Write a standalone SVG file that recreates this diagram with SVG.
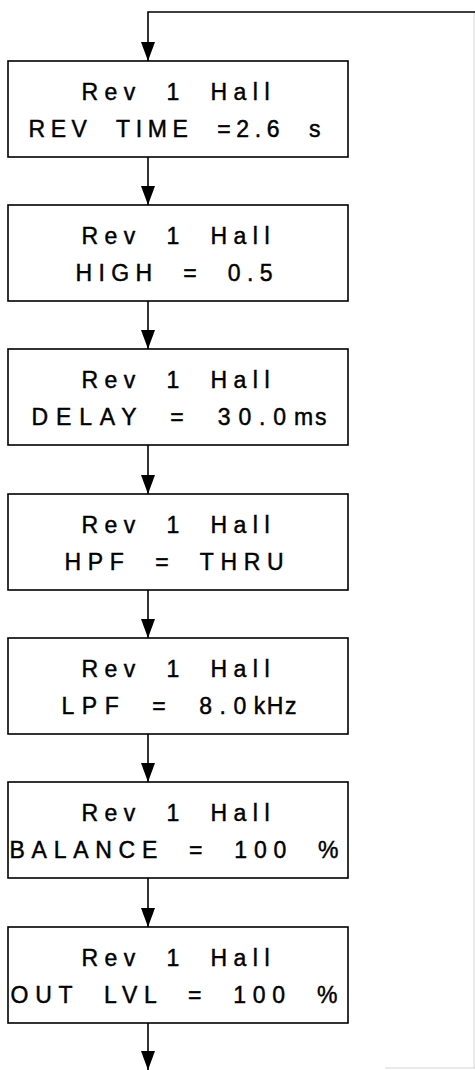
<svg xmlns="http://www.w3.org/2000/svg" width="475" height="1070" viewBox="0 0 475 1070">
<defs>
<style>
.box{fill:#fff;stroke:#000;stroke-width:1.6}
.t{font-family:"Liberation Sans",Arial,sans-serif;font-size:23px;fill:#000;stroke:#000;stroke-width:0.45;letter-spacing:6px;word-spacing:12px}
.tight{letter-spacing:0px}
.ln{stroke:#000;stroke-width:1.6;fill:none}
.faint{stroke:#d4d4d4;stroke-width:1;fill:none}
</style>
</defs>
<rect width="475" height="1070" fill="#fff"/>
<g id="connectors">
<path class="faint" d="M474,12 V1068 M385,1068 H475"/>
<path class="ln" d="M475,12 H148 V61"/>
<line class="ln" x1="148" y1="157" x2="148" y2="205"/>
<line class="ln" x1="148" y1="301" x2="148" y2="349"/>
<line class="ln" x1="148" y1="445" x2="148" y2="494"/>
<line class="ln" x1="148" y1="590" x2="148" y2="638"/>
<line class="ln" x1="148" y1="734" x2="148" y2="782"/>
<line class="ln" x1="148" y1="878" x2="148" y2="927"/>
<line class="ln" x1="148" y1="1023" x2="148" y2="1070"/>
<g fill="#000">
<path d="M141,42 L155,42 L148,61 Z"/>
<path d="M141,186 L155,186 L148,205 Z"/>
<path d="M141,330 L155,330 L148,349 Z"/>
<path d="M141,475 L155,475 L148,494 Z"/>
<path d="M141,619 L155,619 L148,638 Z"/>
<path d="M141,763 L155,763 L148,782 Z"/>
<path d="M141,908 L155,908 L148,927 Z"/>
<path d="M141,1051 L155,1051 L148,1070 Z"/>
</g>
</g>
<g id="n1">
<rect class="box" x="8" y="61" width="340" height="96"/>
<text class="t" x="81.5" y="100" textLength="194" lengthAdjust="spacing">Rev 1 Hall</text>
<text class="t" x="28.5" y="137" textLength="298" lengthAdjust="spacing">REV TIME =2.6 s</text>
</g>
<g id="n2">
<rect class="box" x="8" y="205" width="340" height="96"/>
<text class="t" x="81.5" y="244" textLength="194" lengthAdjust="spacing">Rev 1 Hall</text>
<text class="t" x="75.5" y="281" textLength="203" lengthAdjust="spacing">HIGH = 0.5</text>
</g>
<g id="n3">
<rect class="box" x="8" y="349" width="340" height="96"/>
<text class="t" x="81.5" y="388" textLength="194" lengthAdjust="spacing">Rev 1 Hall</text>
<text class="t" x="31.5" y="425" textLength="295" lengthAdjust="spacing">DELAY = 30.0<tspan class="tight">ms</tspan></text>
</g>
<g id="n4">
<rect class="box" x="8" y="494" width="340" height="96"/>
<text class="t" x="81.5" y="533" textLength="194" lengthAdjust="spacing">Rev 1 Hall</text>
<text class="t" x="64.5" y="570" textLength="225" lengthAdjust="spacing">HPF = THRU</text>
</g>
<g id="n5">
<rect class="box" x="8" y="638" width="340" height="96"/>
<text class="t" x="81.5" y="677" textLength="194" lengthAdjust="spacing">Rev 1 Hall</text>
<text class="t" x="61.5" y="714" textLength="235" lengthAdjust="spacing">LPF = 8.0<tspan class="tight">kHz</tspan></text>
</g>
<g id="n6">
<rect class="box" x="8" y="782" width="340" height="96"/>
<text class="t" x="81.5" y="821" textLength="194" lengthAdjust="spacing">Rev 1 Hall</text>
<text class="t" x="9.5" y="858" textLength="335" lengthAdjust="spacing">BALANCE = 100 %</text>
</g>
<g id="n7">
<rect class="box" x="8" y="927" width="340" height="96"/>
<text class="t" x="81.5" y="966" textLength="194" lengthAdjust="spacing">Rev 1 Hall</text>
<text class="t" x="10.5" y="1003" textLength="333" lengthAdjust="spacing">OUT LVL = 100 %</text>
</g>
</svg>
